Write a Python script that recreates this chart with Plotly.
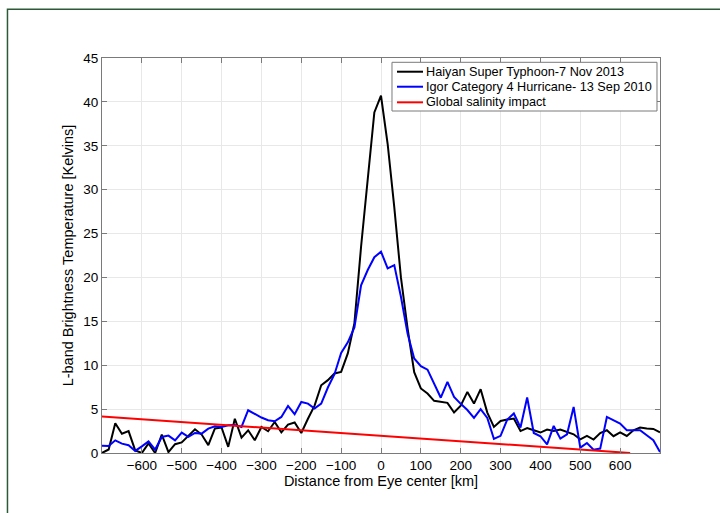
import plotly.graph_objects as go

# Distance from eye center [km]
distance_km = [
    -700, -683.3, -666.7, -650, -633.3, -616.7, -600, -583.3, -566.7, -550,
    -533.3, -516.7, -500, -483.3, -466.7, -450, -433.3, -416.7, -400, -383.3,
    -366.7, -350, -333.3, -316.7, -300, -283.3, -266.7, -250, -233.3, -216.7,
    -200, -183.3, -166.7, -150, -133.3, -116.7, -100, -83.3, -66.7, -50,
    -33.3, -16.7, 0, 16.7, 33.3, 50, 66.7, 83.3, 100, 116.7,
    133.3, 150, 166.7, 183.3, 200, 216.7, 233.3, 250, 266.7, 283.3,
    300, 316.7, 333.3, 350, 366.7, 383.3, 400, 416.7, 433.3, 450,
    466.7, 483.3, 500, 516.7, 533.3, 550, 566.7, 583.3, 600, 616.7,
    633.3, 650, 666.7, 683.3, 700,
]

# Haiyan Super Typhoon - 7 Nov 2013
haiyan_tb = [
    0.0, 0.4, 3.4, 2.2, 2.5, 0.3, 0.0, 1.1, 0.0, 2.1,
    0.1, 1.0, 1.2, 2.0, 2.7, 2.1, 0.9, 2.8, 2.9, 0.7,
    3.9, 1.76, 2.59, 1.45, 2.97, 2.48, 3.54, 2.36, 3.24, 3.47,
    2.28, 3.9, 5.4, 7.72, 8.3, 9.06, 9.24, 11.34, 14.8, 23.5,
    31.2, 38.8, 40.7, 35.2, 28.0, 20.0, 14.2, 9.2, 7.35, 6.78,
    5.94, 5.82, 5.71, 4.61, 5.4, 6.96, 5.63, 7.27, 4.6, 2.97,
    3.65, 3.81, 3.92, 2.5, 2.85, 2.59, 2.33, 2.67, 2.51, 2.67,
    2.4, 2.13, 1.56, 1.94, 1.53, 2.28, 2.59, 1.91, 2.36, 1.94,
    2.59, 2.9, 2.78, 2.74, 2.36,
]

# Igor Category 4 Hurricane - 13 Sep 2010
igor_tb = [
    0.84, 0.80, 1.44, 1.07, 0.88, 0.24, 0.76, 1.33, 0.39, 1.83,
    1.98, 1.44, 2.32, 1.83, 2.28, 2.21, 2.78, 3.05, 2.97, 3.16,
    3.2, 2.97, 4.87, 4.42, 4.04, 3.73, 3.62, 4.11, 5.36, 4.42,
    5.82, 5.63, 5.06, 5.63, 7.46, 8.98, 11.41, 12.6, 14.3, 19.1,
    20.85, 22.3, 22.94, 21.04, 21.4, 17.8, 13.6, 10.77, 9.9, 9.5,
    7.9, 6.3, 8.1, 6.4, 5.6, 4.9, 4.0, 5.0, 4.0, 1.6,
    1.95, 3.8, 4.5, 2.9, 6.32, 2.28, 1.91, 0.99, 3.08, 1.64,
    2.13, 5.25, 0.61, 1.14, 0.38, 0.5, 4.11, 3.73, 3.35, 2.59,
    2.59, 2.59, 2.02, 1.45, 0.12,
]

# Global salinity impact
salinity_x = [-700, 625]
salinity_tb = [4.15, 0.0]

series_names = [
    "Haiyan Super Typhoon-7 Nov 2013",
    "Igor Category 4 Hurricane- 13 Sep 2010",
    "Global salinity impact",
]
series_colors = ["black", "#0000ff", "#ff0000"]

x_tickvals = [-600, -500, -400, -300, -200, -100, 0, 100, 200, 300, 400, 500, 600]
y_tickvals = [0, 5, 10, 15, 20, 25, 30, 35, 40, 45]

FONT = "Liberation Sans, Arial, Helvetica, sans-serif"

fig = go.Figure()
for xs, ys, name, col in [
    (distance_km, haiyan_tb, series_names[0], series_colors[0]),
    (distance_km, igor_tb, series_names[1], series_colors[1]),
    (salinity_x, salinity_tb, series_names[2], series_colors[2]),
]:
    fig.add_trace(go.Scatter(x=xs, y=ys, mode="lines", name=name,
                             line=dict(color=col, width=2), showlegend=False))

axis_common = dict(
    showline=True, mirror="ticks", linecolor="#7a7a7a", linewidth=1,
    ticks="inside", ticklen=5, tickcolor="#7a7a7a",
    showgrid=True, gridcolor="#e8e8e8", gridwidth=1,
    zeroline=False, tickfont=dict(family=FONT, size=13.5, color="black"),
)

# Manual legend (Matlab style box) in paper coordinates
legend_shapes = [dict(type="rect", xref="paper", yref="paper",
                      x0=0.5197, x1=0.9946, y0=0.8658, y1=0.9891,
                      line=dict(color="#7a7a7a", width=1), fillcolor="white",
                      layer="above")]
legend_annots = []
row_y = [0.9653, 0.9273, 0.8878]
for name, col, yy in zip(series_names, series_colors, row_y):
    legend_shapes.append(dict(type="line", xref="paper", yref="paper",
                              x0=0.5287, x1=0.5753, y0=yy, y1=yy,
                              line=dict(color=col, width=2), layer="above"))
    legend_annots.append(dict(xref="paper", yref="paper", x=0.5771, y=yy,
                              xanchor="left", yanchor="middle", showarrow=False,
                              text=name, font=dict(family=FONT, size=12.7,
                                                   color="black")))

fig.update_layout(
    width=720, height=513,
    margin=dict(l=102, r=60, t=58, b=60),
    paper_bgcolor="white", plot_bgcolor="white",
    font=dict(family=FONT, size=13, color="black"),
    xaxis=dict(range=[-700, 700], tickvals=x_tickvals,
               title=dict(text="Distance from Eye center [km]",
                          font=dict(family=FONT, size=14.5), standoff=3),
               **axis_common),
    yaxis=dict(range=[0, 45], tickvals=y_tickvals,
               title=dict(text="L-band Brightness Temperature [Kelvins]",
                          font=dict(family=FONT, size=14.5), standoff=6),
               **axis_common),
    showlegend=False,
    shapes=[dict(type="rect", xref="paper", yref="paper",
                 x0=-0.1694, x1=1.2, y0=-0.3, y1=1.1233,
                 line=dict(color="#2c5a37", width=1.5), layer="below")]
           + legend_shapes,
    annotations=legend_annots,
)

fig.write_html("out.html", config={"displayModeBar": False},
               post_script="document.body.style.margin='0';")
